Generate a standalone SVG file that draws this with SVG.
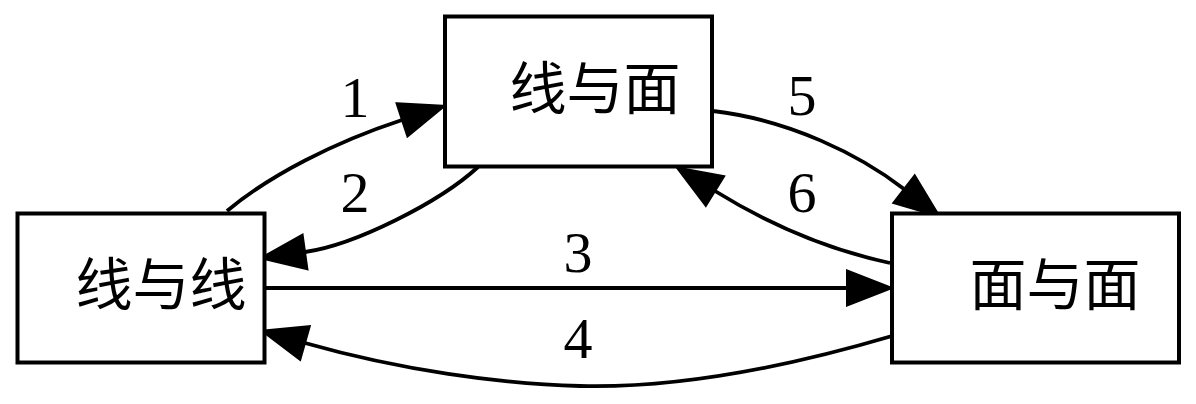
<svg xmlns="http://www.w3.org/2000/svg" width="1196" height="404" viewBox="0 0 1196 404">
<style>
.box{fill:#fff;stroke:#000;stroke-width:4}
.node{font-family:"Liberation Serif","Noto Sans CJK SC",serif;font-size:57px;fill:#000;text-anchor:middle}
.edge{fill:none;stroke:#000;stroke-width:3.8}
.lbl{font-family:"Liberation Serif",serif;font-size:58px;fill:#000;text-anchor:middle}
</style>
<defs>
<marker id="ah" markerUnits="userSpaceOnUse" viewBox="0 -18 46 36" refX="0" refY="0" markerWidth="46" markerHeight="36" orient="auto" overflow="visible">
<path d="M0,-17.5 L45,0 L0,17.5 Z" fill="#000" stroke="#000" stroke-width="2"/>
</marker>
</defs>
<rect width="1196" height="404" fill="#fff"/>
<g id="connectors">
<path id="e1" class="edge" d="M227,211 C270,175 335,142 402,120" marker-end="url(#ah)"/>
<path id="e2" class="edge" d="M478,167 C440,202 355,245 305,252" marker-end="url(#ah)"/>
<path id="e3" class="edge" d="M265,288 L847,288" marker-end="url(#ah)"/>
<path id="e4" class="edge" d="M892,336 C760,375 660,388 580,386 C500,384 400,370 305,343" marker-end="url(#ah)"/>
<path id="e5" class="edge" d="M713,111 C790,120 860,155 904,189" marker-end="url(#ah)"/>
<path id="e6" class="edge" d="M890,263 C830,250 770,225 715,191" marker-end="url(#ah)"/>
<text class="lbl" x="355" y="117">1</text>
<text class="lbl" x="355" y="212">2</text>
<text class="lbl" x="578" y="272">3</text>
<text class="lbl" x="578" y="358">4</text>
<text class="lbl" x="802" y="115">5</text>
<text class="lbl" x="802" y="212">6</text>
</g>
<g id="n_line_face">
<rect class="box" x="445" y="16.5" width="267" height="150"/>
<text class="node" x="595" y="109">线与面</text>
</g>
<g id="n_line_line">
<rect class="box" x="17.5" y="213.5" width="247" height="149"/>
<text class="node" x="161" y="305">线与线</text>
</g>
<g id="n_face_face">
<rect class="box" x="892" y="213.5" width="287" height="149"/>
<text class="node" x="1055" y="305">面与面</text>
</g>
</svg>
